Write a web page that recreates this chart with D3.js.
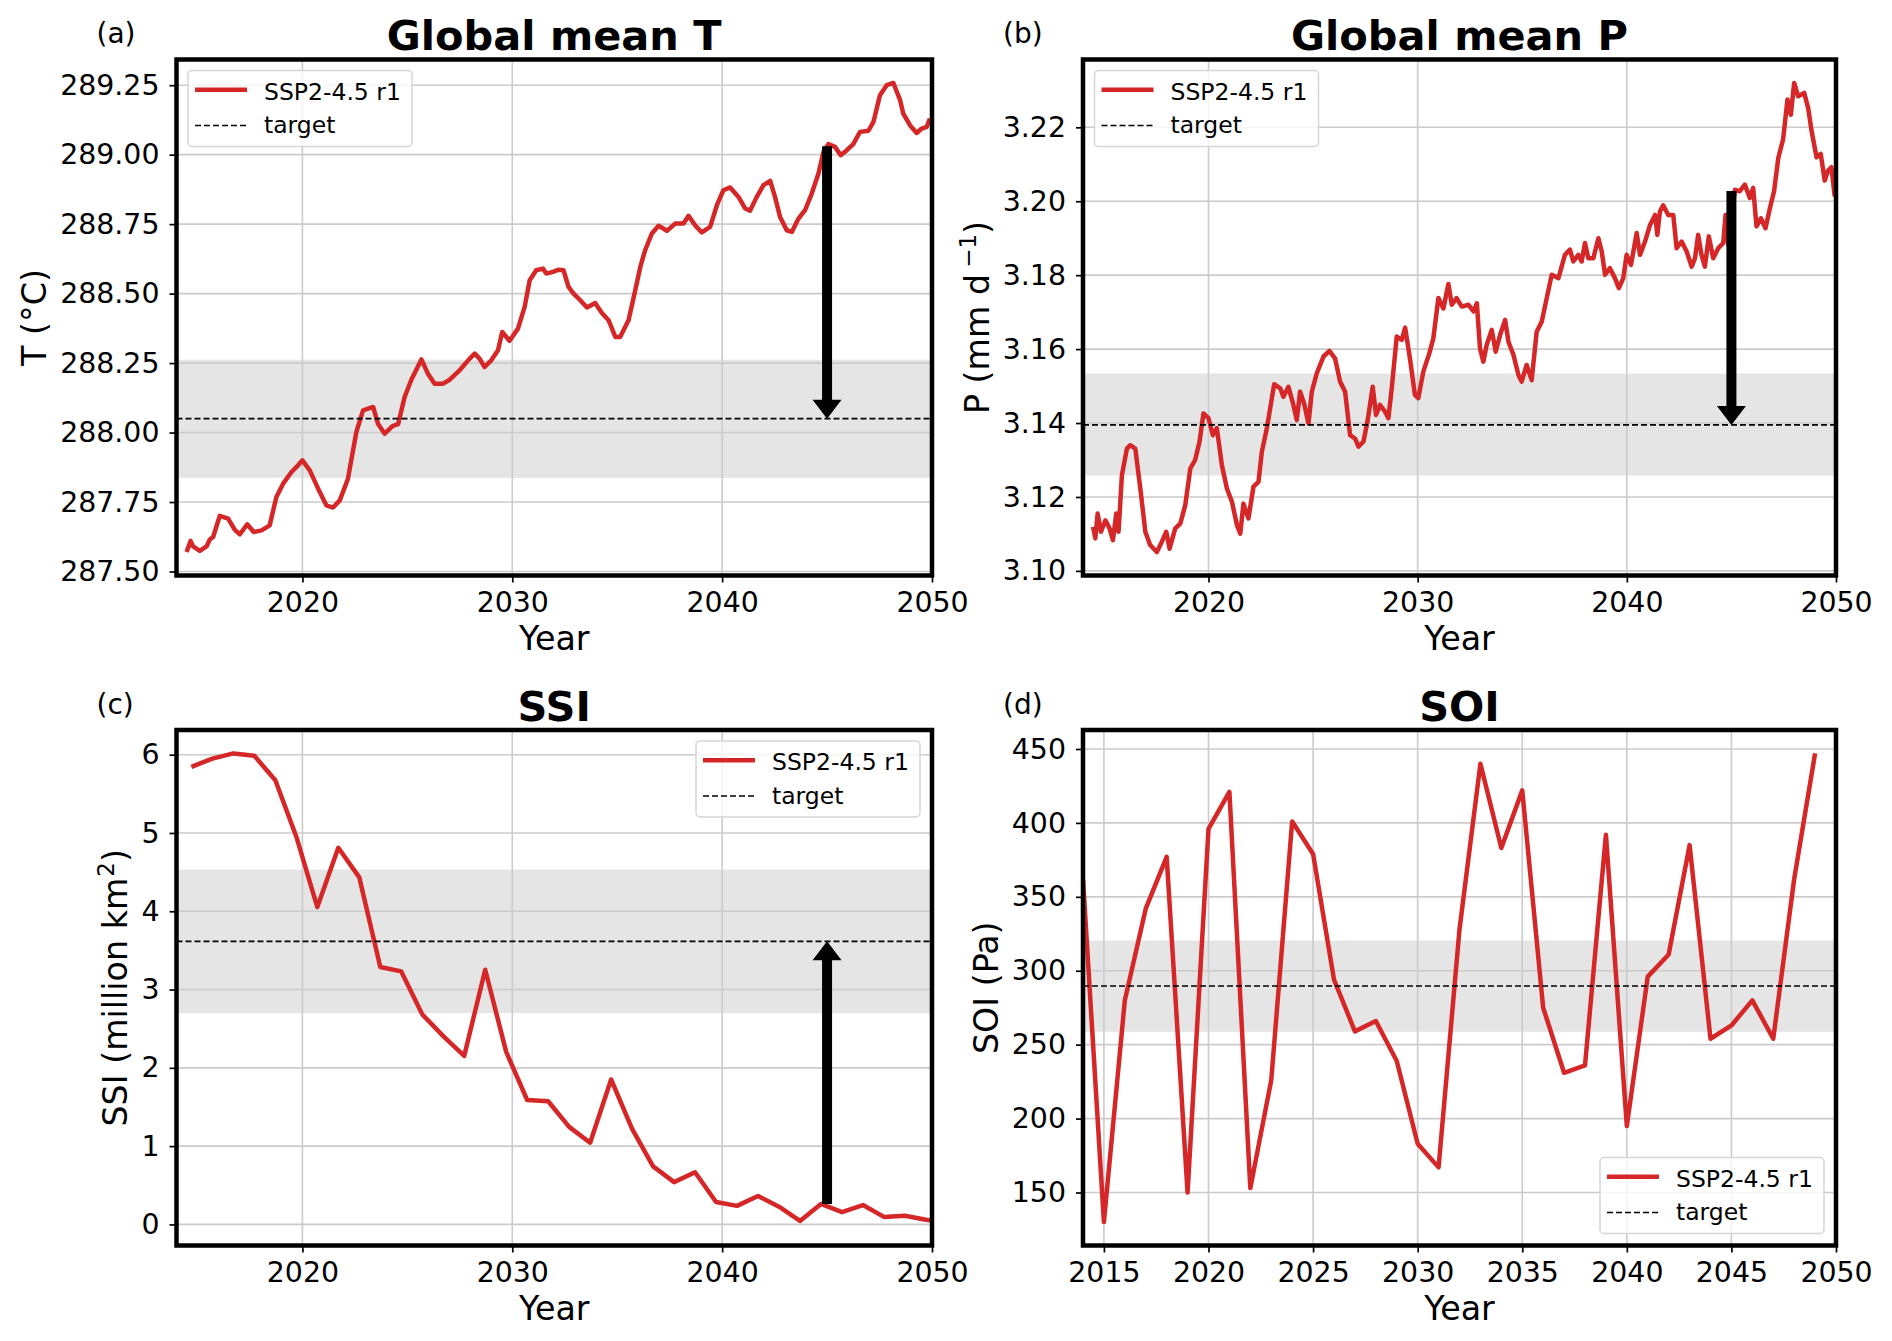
<!DOCTYPE html>
<html>
<head>
<meta charset="utf-8">
<script src="https://cdn.jsdelivr.net/npm/d3@7"></script>
<style>
  body { margin: 0; background: #fff; }
  svg { display: block; }
  text { font-family: "DejaVu Sans", sans-serif; fill: #000; }
</style>
</head>
<body>
<div class="container"></div>
<script>
const width = 1892;
const height = 1341;

// (a) global mean temperature, running mean [year, K]
const tempSeries = [
  [2014.48,287.57],[2014.67,287.61],[2014.79,287.59],[2015.11,287.574],[2015.43,287.59],[2015.59,287.615],
  [2015.75,287.625],[2016.06,287.70],[2016.46,287.69],[2016.78,287.65],[2017.02,287.634],[2017.37,287.67],
  [2017.68,287.642],[2018.05,287.648],[2018.44,287.666],[2018.76,287.768],[2019.08,287.816],[2019.48,287.858],
  [2019.79,287.882],[2020.0,287.90],[2020.35,287.864],[2020.75,287.798],[2021.14,287.738],[2021.46,287.73],
  [2021.78,287.756],[2022.17,287.834],[2022.57,288.002],[2022.89,288.08],[2023.37,288.092],[2023.60,288.032],
  [2023.92,287.996],[2024.29,288.023],[2024.56,288.03],[2024.87,288.128],[2025.19,288.19],[2025.67,288.263],
  [2025.98,288.212],[2026.30,288.176],[2026.70,288.176],[2027.02,288.19],[2027.49,288.224],[2027.97,288.266],
  [2028.21,288.284],[2028.44,288.266],[2028.68,288.236],[2029.0,288.26],[2029.32,288.296],[2029.52,288.362],
  [2029.87,288.33],[2030.27,288.374],[2030.59,288.452],[2030.83,288.548],[2031.14,288.584],[2031.46,288.59],
  [2031.62,288.572],[2031.94,288.578],[2032.21,288.586],[2032.44,288.584],[2032.68,288.524],[2032.92,288.50],
  [2033.24,288.476],[2033.56,288.45],[2033.95,288.466],[2034.27,288.43],[2034.59,288.404],[2034.91,288.344],
  [2035.14,288.344],[2035.54,288.404],[2035.86,288.512],[2036.10,288.596],[2036.33,288.656],[2036.65,288.716],
  [2036.97,288.744],[2037.37,288.726],[2037.76,288.752],[2038.16,288.752],[2038.40,288.78],[2038.71,288.746],
  [2039.03,288.72],[2039.43,288.74],[2039.75,288.818],[2040.06,288.872],[2040.38,288.882],[2040.78,288.848],
  [2041.10,288.806],[2041.33,288.798],[2041.65,288.848],[2041.97,288.89],[2042.29,288.906],[2042.52,288.848],
  [2042.76,288.776],[2043.08,288.728],[2043.32,288.722],[2043.64,288.77],[2043.95,288.80],[2044.27,288.86],
  [2044.59,288.932],[2044.83,289.01],[2045.06,289.038],[2045.38,289.028],[2045.65,288.998],[2045.94,289.016],
  [2046.25,289.038],[2046.57,289.082],[2046.97,289.086],[2047.21,289.118],[2047.52,289.214],[2047.84,289.25],
  [2048.16,289.258],[2048.48,289.196],[2048.63,289.148],[2048.95,289.106],[2049.27,289.078],[2049.51,289.094],
  [2049.75,289.10],[2049.9,289.13]
]

// (b) global mean precipitation [year, mm/d]
const precSeries = [
  [2014.48,3.1119],[2014.59,3.1088],[2014.70,3.1155],[2014.86,3.1106],[2015.07,3.1137],[2015.27,3.1115],
  [2015.43,3.1083],[2015.59,3.1155],[2015.70,3.1106],[2015.86,3.1259],[2016.10,3.1331],[2016.26,3.134],
  [2016.50,3.1331],[2016.74,3.1223],[2016.98,3.1106],[2017.21,3.107],[2017.53,3.1051],[2017.77,3.1079],
  [2017.98,3.1106],[2018.14,3.106],[2018.41,3.1115],[2018.65,3.1128],[2018.89,3.1178],[2019.13,3.1277],
  [2019.36,3.13],[2019.57,3.1349],[2019.76,3.1426],[2020.0,3.1413],[2020.21,3.1367],[2020.40,3.1386],
  [2020.64,3.1286],[2020.88,3.1223],[2021.12,3.1187],[2021.36,3.1124],[2021.52,3.1101],[2021.67,3.1182],
  [2021.91,3.1142],[2022.15,3.1228],[2022.39,3.1241],[2022.55,3.1322],[2022.79,3.1386],[2022.95,3.144],
  [2023.14,3.1505],[2023.43,3.1494],[2023.58,3.1471],[2023.82,3.1498],[2024.06,3.1449],[2024.22,3.1408],
  [2024.38,3.1485],[2024.57,3.1453],[2024.78,3.1399],[2024.94,3.1485],[2025.18,3.1535],[2025.50,3.158],
  [2025.78,3.1595],[2026.05,3.1575],[2026.29,3.1512],[2026.53,3.1485],[2026.77,3.1367],[2027.01,3.1358],
  [2027.17,3.1336],[2027.41,3.135],[2027.60,3.1404],[2027.85,3.1498],[2028.01,3.1422],[2028.20,3.1449],
  [2028.44,3.1431],[2028.60,3.1413],[2028.76,3.1494],[2029.00,3.1634],[2029.24,3.1625],[2029.40,3.1658],
  [2029.63,3.1575],[2029.87,3.1476],[2030.03,3.1467],[2030.27,3.1539],[2030.56,3.1589],[2030.75,3.1629],
  [2030.99,3.1738],[2031.23,3.171],[2031.47,3.1776],[2031.63,3.172],[2031.86,3.1738],[2032.11,3.1715],
  [2032.43,3.172],[2032.67,3.1702],[2032.83,3.1724],[2032.98,3.1602],[2033.14,3.1566],[2033.30,3.1611],
  [2033.54,3.1652],[2033.73,3.1593],[2033.94,3.1638],[2034.18,3.1679],[2034.34,3.162],[2034.58,3.1584],
  [2034.82,3.153],[2034.97,3.1512],[2035.21,3.1557],[2035.45,3.1516],[2035.69,3.1647],[2035.93,3.1674],
  [2036.17,3.1738],[2036.41,3.1801],[2036.73,3.1792],[2037.04,3.1855],[2037.28,3.1869],[2037.44,3.1837],
  [2037.68,3.1855],[2037.84,3.1837],[2038.0,3.1887],[2038.16,3.1846],[2038.40,3.1846],[2038.64,3.19],
  [2038.80,3.1864],[2038.96,3.1801],[2039.19,3.1819],[2039.43,3.1792],[2039.62,3.1765],[2039.83,3.1792],
  [2039.99,3.1855],[2040.20,3.1828],[2040.47,3.1914],[2040.63,3.1855],[2040.87,3.1891],[2041.11,3.1936],
  [2041.35,3.1963],[2041.46,3.1909],[2041.58,3.1972],[2041.74,3.1989],[2041.98,3.1963],[2042.22,3.1963],
  [2042.38,3.1873],[2042.62,3.1891],[2042.86,3.1864],[2043.10,3.1823],[2043.26,3.1846],[2043.41,3.1909],
  [2043.57,3.1855],[2043.73,3.1823],[2043.92,3.1905],[2044.13,3.1846],[2044.37,3.1873],[2044.61,3.1887],
  [2044.72,3.1963],[2044.85,3.1882],[2045.17,3.2031],[2045.40,3.2027],[2045.64,3.2045],[2045.88,3.2009],
  [2046.04,3.2036],[2046.20,3.1932],[2046.41,3.1954],[2046.63,3.1927],[2046.84,3.1981],[2047.04,3.2027],
  [2047.24,3.2117],[2047.47,3.2167],[2047.68,3.2275],[2047.84,3.2234],[2048.0,3.232],[2048.19,3.2284],
  [2048.48,3.2293],[2048.67,3.2252],[2048.83,3.2191],[2049.07,3.2119],[2049.27,3.2128],[2049.46,3.2056],
  [2049.62,3.2083],[2049.78,3.2092],[2049.94,3.2013]
]

// (c) September sea ice, one value per year
const ssiYears = [2014,2015,2016,2017,2018,2019,2020,2021,2022,2023,2024,2025,2026,2027,2028,2029,2030,2031,2032,
  2033,2034,2035,2036,2037,2038,2039,2040,2041,2042,2043,2044,2045,2046,2047,2048,2049,2050]
const ssiValues = [5.845,5.95,6.016,5.986,5.673,4.952,4.054,4.811,4.433,3.288,3.232,2.683,2.405,2.153,3.253,2.204,
  1.589,1.573,1.246,1.044,1.851,1.220,0.741,0.540,0.666,0.287,0.237,0.363,0.227,0.045,0.262,0.156,0.247,0.096,
  0.111,0.06,0.03]
const ssiMonth = 0.71 // September sits at this fraction of the year

// (d) SOI, one value per year
const soiYears = [2014,2015,2016,2017,2018,2019,2020,2021,2022,2023,2024,2025,2026,2027,2028,2029,2030,2031,2032,
  2033,2034,2035,2036,2037,2038,2039,2040,2041,2042,2043,2044,2045,2046,2047,2048,2049]
const soiValues = [362,130,280,342,377,150,396,421,153,226,401,379,294,259,266,239,183,167,328,440,383,422,275,231,
  236,392,195,296,311,385,254,263,280,254,362,447]

const decadeTicks = [2020, 2030, 2040, 2050]
const fiveYearTicks = [2015, 2020, 2025, 2030, 2035, 2040, 2045, 2050]
const tempTicks = [287.5, 287.75, 288.0, 288.25, 288.5, 288.75, 289.0, 289.25]
const precTicks = [3.10, 3.12, 3.14, 3.16, 3.18, 3.20, 3.22]
const ssiTicks = [0, 1, 2, 3, 4, 5, 6]
const soiTicks = [150, 200, 250, 300, 350, 400, 450]

const targets = { a: 288.05, b: 3.1395, c: 3.616, d: 289.7 }
const bands = { a: [287.837, 288.262], b: [3.1258, 3.1534], c: [2.698, 4.533], d: [258.7, 320.4] }
const arrowYear = 2045
const arrowFrom = { a: 289.03, b: 3.2028, c: 0.262 }

const red = '#d62728'

var svg = d3.select('.container')
  .append('svg')
  .attr('width', width)
  .attr('height', height)

svg.append('rect').attr('width', width).attr('height', height).attr('fill', '#fff')

// matplotlib-style 5% margin
function padded(ext) {
  const r = ext[1] - ext[0]
  return [ext[0] - 0.05 * r, ext[1] + 0.05 * r]
}

function drawPanel(p) {
  const w = p.right - p.left
  const h = p.bottom - p.top
  const g = svg.append('g').attr('transform', `translate(${p.left},${p.top})`)

  const x = d3.scaleLinear().domain([2014, 2050]).range([0, w])
  const y = d3.scaleLinear().domain(padded(d3.extent(p.series, d => d[1]))).range([h, 0])

  g.append('clipPath').attr('id', 'clip-' + p.id)
    .append('rect').attr('width', w).attr('height', h)

  // shaded range round the target
  g.append('rect')
    .attr('x', 0).attr('width', w)
    .attr('y', y(p.band[1]))
    .attr('height', y(p.band[0]) - y(p.band[1]))
    .attr('fill', '#e5e5e5')

  // grid
  g.append('g').selectAll('line').data(p.xTicks).enter().append('line')
    .attr('x1', d => x(d)).attr('x2', d => x(d)).attr('y1', 0).attr('y2', h)
    .attr('stroke', '#cbcbcb').attr('stroke-width', 1.6)
  g.append('g').selectAll('line').data(p.yTicks).enter().append('line')
    .attr('x1', 0).attr('x2', w).attr('y1', d => y(d)).attr('y2', d => y(d))
    .attr('stroke', '#cbcbcb').attr('stroke-width', 1.6)

  const plot = g.append('g').attr('clip-path', `url(#clip-${p.id})`)

  plot.append('path')
    .datum(p.series)
    .attr('d', d3.line().x(d => x(d[0])).y(d => y(d[1])))
    .attr('fill', 'none')
    .attr('stroke', red)
    .attr('stroke-width', 4.5)
    .attr('stroke-linejoin', 'round')

  plot.append('line')
    .attr('x1', 0).attr('x2', w)
    .attr('y1', y(p.target)).attr('y2', y(p.target))
    .attr('stroke', '#000').attr('stroke-width', 1.7)
    .attr('stroke-dasharray', '6,3')

  if (p.arrowFrom !== undefined) {
    const ax = x(arrowYear)
    const y0 = y(p.arrowFrom)
    const y1 = y(p.target)
    const dir = y1 > y0 ? 1 : -1
    const headLen = 19, headHalf = 14.5, shaftHalf = 5
    const yb = y1 - dir * headLen
    const pts = [
      [ax - shaftHalf, y0], [ax + shaftHalf, y0], [ax + shaftHalf, yb], [ax + headHalf, yb],
      [ax, y1], [ax - headHalf, yb], [ax - shaftHalf, yb]
    ]
    plot.append('path')
      .attr('d', 'M' + pts.map(q => q.join(',')).join('L') + 'Z')
      .attr('fill', '#000')
  }

  // axes
  const xAxis = d3.axisBottom(x).tickValues(p.xTicks).tickFormat(d3.format('d'))
    .tickSize(7).tickPadding(9.5)
  const xg = g.append('g').attr('transform', `translate(0,${h})`).call(xAxis)

  const yAxis = d3.axisLeft(y).tickValues(p.yTicks).tickFormat(d3.format(p.yFormat))
    .tickSize(7).tickPadding(10)
  const yg = g.append('g').call(yAxis)

  ;[xg, yg].forEach(a => {
    a.select('.domain').remove()
    a.selectAll('.tick line').attr('stroke', '#000').attr('stroke-width', 1.7)
    a.selectAll('.tick text')
      .attr('font-family', '"DejaVu Sans", sans-serif')
      .attr('font-size', 28.4)
      .attr('fill', '#000')
  })

  g.append('text')
    .attr('x', w / 2).attr('y', h + 74)
    .attr('text-anchor', 'middle')
    .attr('font-size', 33.3)
    .text('Year')

  const bb = yg.node().getBBox()
  const yl = g.append('text')
    .attr('transform', `translate(${bb.x - 14},${h / 2}) rotate(-90)`)
    .attr('text-anchor', 'middle')
    .attr('font-size', 33.3)
  yl.append('tspan').text(p.ylabel[0])
  if (p.ylabel.length > 1) {
    yl.append('tspan').attr('dx', p.supGap).attr('dy', -13).attr('font-size', 23).text(p.ylabel[1])
    yl.append('tspan').attr('dy', 13).text(p.ylabel[2])
  }

  g.append('text')
    .attr('x', w / 2).attr('y', -9.5)
    .attr('text-anchor', 'middle')
    .attr('font-size', 41.5)
    .attr('font-weight', 'bold')
    .text(p.title)

  g.append('text')
    .attr('x', -80).attr('y', -16.5)
    .attr('font-size', 28)
    .text(p.letter)

  // legend
  const lw = 224, lh = 76
  let lx = 11.5, ly = 11
  if (p.legend === 'upper right') { lx = w - 12 - lw }
  if (p.legend === 'lower right') { lx = w - 12 - lw; ly = h - 12 - lh }
  const lg = g.append('g').attr('transform', `translate(${lx},${ly})`)
  lg.append('rect')
    .attr('width', lw).attr('height', lh).attr('rx', 4)
    .attr('fill', '#fff').attr('fill-opacity', 0.8)
    .attr('stroke', '#d6d6d6').attr('stroke-width', 1.5)
  lg.append('line').attr('x1', 7).attr('x2', 59).attr('y1', 19.3).attr('y2', 19.3)
    .attr('stroke', red).attr('stroke-width', 4.5)
  lg.append('line').attr('x1', 7).attr('x2', 59).attr('y1', 55).attr('y2', 55)
    .attr('stroke', '#000').attr('stroke-width', 1.7).attr('stroke-dasharray', '6,3')
  lg.append('text').attr('x', 76).attr('y', 29.3).attr('font-size', 23.5).text('SSP2-4.5 r1')
  lg.append('text').attr('x', 76).attr('y', 62.6).attr('font-size', 23.5).text('target')

  // frame
  g.append('rect')
    .attr('width', w).attr('height', h)
    .attr('fill', 'none').attr('stroke', '#000').attr('stroke-width', 4.5)
}

drawPanel({
  id: 'a', letter: '(a)', title: 'Global mean T',
  left: 176.5, right: 932, top: 59.5, bottom: 575.5,
  series: tempSeries, xTicks: decadeTicks, yTicks: tempTicks, yFormat: '.2f',
  ylabel: ['T (°C)'], target: targets.a, band: bands.a, arrowFrom: arrowFrom.a, legend: 'upper left'
})

drawPanel({
  id: 'b', letter: '(b)', title: 'Global mean P',
  left: 1083, right: 1836, top: 59.5, bottom: 575.5,
  series: precSeries, xTicks: decadeTicks, yTicks: precTicks, yFormat: '.2f',
  ylabel: ['P (mm d', '\u22121', ')'], supGap: 6, target: targets.b, band: bands.b, arrowFrom: arrowFrom.b,
  legend: 'upper left'
})

drawPanel({
  id: 'c', letter: '(c)', title: 'SSI',
  left: 176.5, right: 932, top: 730, bottom: 1245.5,
  series: ssiYears.map((yr, i) => [yr + ssiMonth, ssiValues[i]]),
  xTicks: decadeTicks, yTicks: ssiTicks, yFormat: 'd',
  ylabel: ['SSI (million km', '2', ')'], supGap: 1, target: targets.c, band: bands.c, arrowFrom: arrowFrom.c,
  legend: 'upper right'
})

drawPanel({
  id: 'd', letter: '(d)', title: 'SOI',
  left: 1083, right: 1836, top: 730, bottom: 1245.5,
  series: soiYears.map((yr, i) => [yr, soiValues[i]]),
  xTicks: fiveYearTicks, yTicks: soiTicks, yFormat: 'd',
  ylabel: ['SOI (Pa)'], target: targets.d, band: bands.d, legend: 'lower right'
})
</script>
</body>
</html>
